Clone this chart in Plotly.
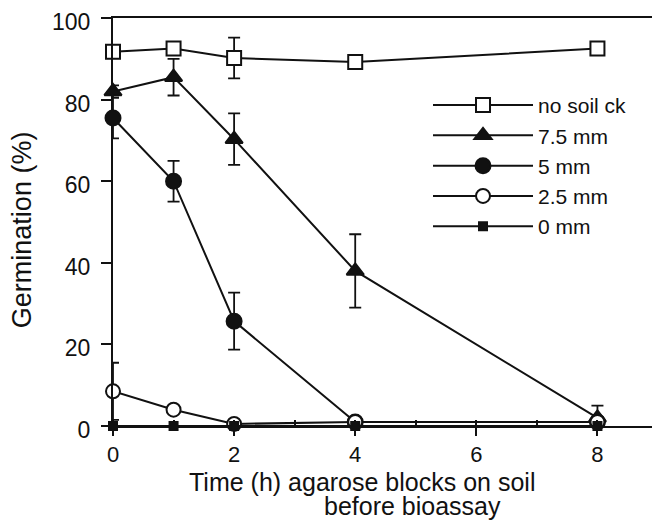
import plotly.graph_objects as go

hours = [0, 1, 2, 4, 8]

no_soil = [91.7, 92.5, 90.2, 89.2, 92.5]
no_soil_err = [0, 0, 5.0, 1.0, 0]

mm75 = [82.0, 85.5, 70.3, 38.0, 2.0]
mm75_err = [1.5, 4.5, 6.3, 9.0, 3.0]

mm5 = [75.5, 60.0, 25.7, 1.0, 1.0]
mm5_err = [5.0, 5.0, 7.0, 0, 0]

mm25 = [8.5, 4.0, 0.5, 1.0, 1.0]
mm25_err = [7.0, 0, 0, 0, 0]

mm0 = [0, 0, 0, 0, 0]

x_ticks = [0, 2, 4, 6, 8]
y_ticks = [0, 20, 40, 60, 80, 100]

x_title_1 = "Time (h) agarose blocks on soil"
x_title_2 = "before bioassay"
y_title = "Germination (%)"

FONT = "Liberation Sans, Arial, sans-serif"
BLACK = "#111111"

series = [
    ("no soil ck", no_soil, no_soil_err, "square", "white", 14),
    ("7.5 mm", mm75, mm75_err, "triangle-up", BLACK, 15),
    ("5 mm", mm5, mm5_err, "circle", BLACK, 15),
    ("2.5 mm", mm25, mm25_err, "circle", "white", 14),
    ("0 mm", mm0, None, "square", BLACK, 8),
]

fig = go.Figure()
for name, ys, err, sym, fill, size in series:
    kw = {}
    if err is not None:
        kw["error_y"] = dict(type="data", array=err, visible=True,
                             color=BLACK, thickness=1.8, width=6)
    fig.add_trace(go.Scatter(
        x=hours, y=ys, name=name, mode="lines+markers",
        line=dict(color=BLACK, width=2),
        marker=dict(symbol=sym, size=size, color=fill,
                    line=dict(color=BLACK, width=2)),
        cliponaxis=False,
        **kw,
    ))

# the page body adds an 8px margin; the figure is sized to fill the rest
fig.update_layout(
    width=652, height=512,
    margin=dict(l=105, r=2, t=10, b=94, autoexpand=False),
    paper_bgcolor="white", plot_bgcolor="white",
    font=dict(family=FONT, size=22, color=BLACK),
    showlegend=True,
    legend=dict(x=0.578, y=0.836, xanchor="left", yanchor="top",
                bgcolor="rgba(0,0,0,0)", font=dict(size=21, color=BLACK),
                tracegroupgap=0, itemwidth=100),
    xaxis=dict(
        range=[0, 9], tickvals=x_ticks, ticktext=[str(v) for v in x_ticks],
        showgrid=False, zeroline=False, showline=True, linecolor=BLACK,
        linewidth=2, mirror=True, ticks="outside", ticklen=8, tickwidth=2,
        tickcolor=BLACK, automargin=False, tickfont=dict(size=22),
        ticklabeloverflow="allow",
        minor=dict(dtick=1, tick0=1, ticks="inside", ticklen=6, tickwidth=2,
                   tickcolor=BLACK, showgrid=False),
    ),
    yaxis=dict(
        range=[0, 100], tickvals=y_ticks, ticktext=[str(v) for v in y_ticks],
        showgrid=False, zeroline=False, showline=True, linecolor=BLACK,
        linewidth=2, mirror=True, ticks="outside", ticklen=10, tickwidth=2,
        tickcolor=BLACK, automargin=False, tickfont=dict(size=23),
        ticklabelstandoff=6, ticklabeloverflow="allow", ticklabelshift=4,
    ),
    annotations=[
        dict(text=y_title, xref="paper", yref="paper", x=0, y=0.48,
             xanchor="center", yanchor="middle", xshift=-91, textangle=-90,
             showarrow=False, font=dict(size=27)),
        dict(text=x_title_1, xref="paper", yref="paper", x=0, y=0,
             xanchor="left", yanchor="middle", xshift=74, yshift=-56,
             showarrow=False, font=dict(size=25)),
        dict(text=x_title_2, xref="paper", yref="paper", x=0, y=0,
             xanchor="left", yanchor="middle", xshift=209, yshift=-80,
             showarrow=False, font=dict(size=25)),
    ],
)

fig.write_html("out.html")
